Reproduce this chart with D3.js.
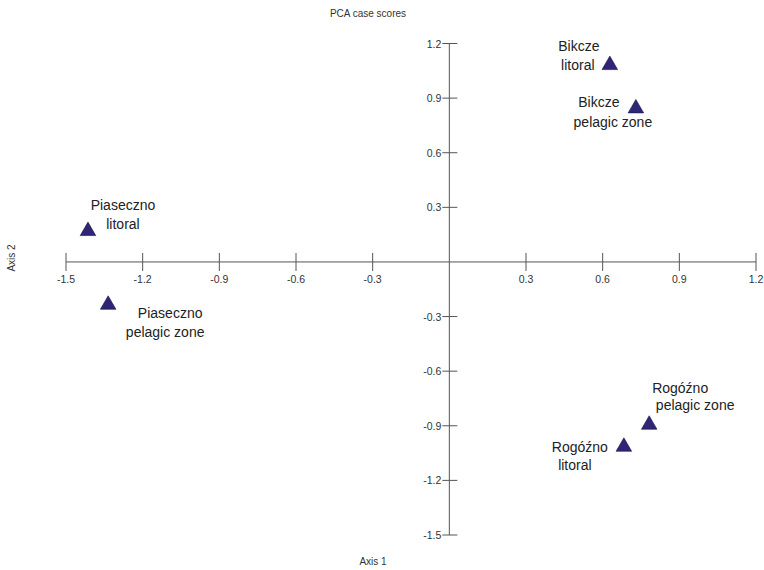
<!DOCTYPE html>
<html><head><meta charset="utf-8">
<script src="https://cdn.jsdelivr.net/npm/d3@7"></script>
<style>body{margin:0;background:#fff}svg{display:block}text{font-family:"Liberation Sans",Arial,sans-serif}</style>
</head><body><svg id="c" width="764" height="570"></svg>
<script>
const sites = ["Piaseczno litoral","Piaseczno pelagic zone","Bikcze litoral","Bikcze pelagic zone","Rogóźno litoral","Rogóźno pelagic zone"];
const axis1 = [-1.414, -1.335, 0.628, 0.730, 0.683, 0.782];
const axis2 = [0.175, -0.230, 1.087, 0.849, -1.010, -0.889];
const xTicks = [-1.5,-1.2,-0.9,-0.6,-0.3,0.3,0.6,0.9,1.2];
const yTicks = [1.2,0.9,0.6,0.3,-0.3,-0.6,-0.9,-1.2,-1.5];
const labelLines = [["Piaseczno","litoral"],["Piaseczno","pelagic zone"],["Bikcze","litoral"],["Bikcze","pelagic zone"],["Rogóźno","litoral"],["Rogóźno","pelagic zone"]];
// pixel offsets of label lines relative to point (layout only)
const labelOffsets = [
  [[35,-20],[35,-1]],
  [[62,14],[57,33]],
  [[-31,-13],[-32,6]],
  [[-37,0],[-23,20]],
  [[-44,6],[-49,24]],
  [[31,-31],[46,-14]]
];

const svg = d3.select("#c");
const x = d3.scaleLinear().domain([-1.5,1.2]).range([66,756]);
const y = d3.scaleLinear().domain([-1.5,1.2]).range([535,43.5]);

const fmt = d => d3.format(".1f")(d).replace("\u2212","-");
// x axis
const gx = svg.append("g").attr("transform",`translate(0,${y(0)})`);
gx.append("line").attr("x1",x(-1.5)).attr("x2",x(1.2)).attr("stroke","#555").attr("stroke-width",1);
gx.selectAll("line.t").data(xTicks).join("line").attr("class","t")
  .attr("x1",d=>x(d)).attr("x2",d=>x(d)).attr("y1",-9).attr("y2",9).attr("stroke","#555");
gx.selectAll("text").data(xTicks).join("text")
  .attr("x",d=>x(d)).attr("y",21).attr("text-anchor","middle").attr("font-size",10.5).attr("fill","#333").text(fmt);
// y axis
const gy = svg.append("g").attr("transform",`translate(${x(0)},0)`);
gy.append("line").attr("y1",y(1.2)).attr("y2",y(-1.5)).attr("stroke","#555").attr("stroke-width",1);
gy.selectAll("line.t").data(yTicks).join("line").attr("class","t")
  .attr("y1",d=>y(d)).attr("y2",d=>y(d)).attr("x1",-7).attr("x2",8).attr("stroke","#555");
gy.selectAll("text").data(yTicks).join("text")
  .attr("x",-8).attr("y",d=>y(d)+4).attr("text-anchor","end").attr("font-size",10.5).attr("fill","#333").text(fmt);

// points
const tri = d3.symbol().type(d3.symbolTriangle).size(105);
svg.selectAll("path.pt").data(sites).join("path").attr("class","pt")
  .attr("d",tri).attr("transform",(d,i)=>`translate(${x(axis1[i])},${y(axis2[i])+1})`)
  .attr("fill","#2f2577").attr("stroke","#1a1540").attr("stroke-width",0.6);

// labels
sites.forEach((s,i)=>{
  labelLines[i].forEach((t,j)=>{
    svg.append("text").attr("x",x(axis1[i])+labelOffsets[i][j][0]).attr("y",y(axis2[i])+labelOffsets[i][j][1])
      .attr("text-anchor","middle").attr("font-size",14).attr("fill","#222").text(t);
  });
});

svg.append("text").attr("x",368).attr("y",17).attr("text-anchor","middle").attr("font-size",10).attr("fill","#333").text("PCA case scores");
svg.append("text").attr("x",373).attr("y",565).attr("text-anchor","middle").attr("font-size",10).attr("fill","#333").text("Axis 1");
svg.append("text").attr("transform","translate(15,258) rotate(-90)").attr("text-anchor","middle").attr("font-size",10).attr("fill","#333").text("Axis 2");
</script></body></html>
